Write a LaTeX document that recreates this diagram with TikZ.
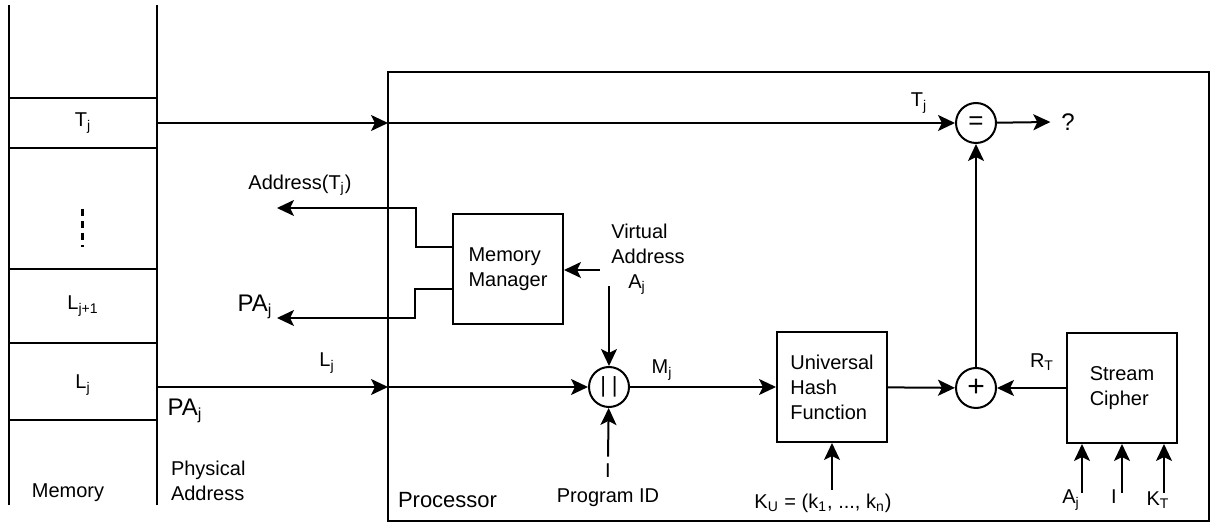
\documentclass[tikz,border=0pt]{standalone}
\usepackage{fontspec}
\setmainfont{Liberation Sans}
\usetikzlibrary{arrows.meta}
\tikzset{
  blk/.style={draw,line width=1pt,minimum width=55pt,minimum height=55pt,align=left,font=\fontsize{10}{12.5}\selectfont},
  junc/.style={draw,circle,line width=1pt,minimum size=20pt,inner sep=0pt,font=\fontsize{11}{13}\selectfont},
  cell/.style={minimum width=74pt,inner sep=0pt,font=\fontsize{10}{12}\selectfont},
  lbl/.style={inner sep=0pt,font=\fontsize{10}{12.5}\selectfont},
  biglbl/.style={inner sep=0pt,font=\fontsize{12}{13}\selectfont},
}

\begin{document}
\begin{tikzpicture}[x=0.5pt,y=-0.5pt,line width=1pt,>={Stealth[length=8.5pt,width=8pt,inset=2pt]}]
\useasboundingbox (0,0) rectangle (1211,523);
% memory column
\draw (9,5) -- (9,505);
\draw (157,5) -- (157,505);
\foreach \y in {98,148,269,343,420} \draw (9,\y) -- (157,\y);
\draw[line width=1.5pt,dash pattern=on 3.5pt off 2.5pt] (82,209) -- (82,247);
\node[cell] (memT) at (83,123) {T\textsubscript{j}};
\node[cell] (memL1) at (83,306) {L\textsubscript{j+1}};
\node[cell] (memL) at (83,385) {L\textsubscript{j}};
\node[lbl] (mem) at (68,493) {Memory};
\node[lbl,align=left,anchor=west] (phys) at (170,481) {Physical\\Address};
% processor
\draw (388,72) rectangle (1209,521);
\node[inner sep=0pt,anchor=west,font=\fontsize{11}{13}\selectfont] (proc) at (397,500) {Processor};
\node[junc,font=\fontsize{13}{13}\selectfont] (eq) at (976,123) {=};
\node[junc] (cat) at (609,387) {|\hspace{3pt}|};
\node[junc,font=\fontsize{15}{15}\selectfont] (plus) at (976,388) {+};
\node[blk] (mm) at (508,269) {Memory\\Manager};
\node[blk] (uhf) at (832,387) {Universal\\Hash\\Function};
\node[blk] (sc) at (1122,388) {Stream\\Cipher};
% tag path
\coordinate (pinT) at (388,123);
\draw[->] (memT.east) -- (pinT);
\draw[->] (pinT) -- (eq);
\node[lbl] (tj) at (919,103) {T\textsubscript{j}};
\node[biglbl] (ans) at (1068,122) {?};
\draw[->] (eq) -- ([xshift=-5pt]ans.west);
% line path
\coordinate (pinL) at (388,387);
\draw[->] (memL.east |- pinL) -- (pinL);
\draw[->] (pinL) -- (cat);
\node[lbl] (lj) at (327,363) {L\textsubscript{j}};
\node[biglbl] (paL) at (185,411) {PA\textsubscript{j}};
\draw[->] (cat) -- (uhf);
\node[lbl] (mj) at (662,370) {M\textsubscript{j}};
\draw[->] (uhf) -- (plus);
\draw[->] (sc.west) -- (plus);
\node[lbl] (rt) at (1042,362) {R\textsubscript{T}};
\draw[->] (plus) -- (eq);
% memory manager
\coordinate (addrT) at (277,208);
\coordinate (paT) at (277,318);
\draw[->] ([yshift=11pt]mm.west) -- ++(-36,0) |- (addrT);
\draw[->] ([yshift=-10pt]mm.west) -- ++(-37,0) |- (paT);
\node[lbl] (addr) at (300,185) {Address(T\textsubscript{j})};
\node[biglbl] (paM) at (255,307) {PA\textsubscript{j}};
\node[lbl,align=left] (va) at (648,259) {Virtual\\Address\\\hspace*{8.5pt}A\textsubscript{j}};
\coordinate (vaL) at (600,270);
\coordinate (vaD) at (609,286);
\draw[->] (vaL) -- (mm.east |- vaL);
\draw[->] (vaD) -- (cat);
% inputs
\node[lbl,align=center] (pid) at (608,485) {I\\Program ID};
\draw[->] ([yshift=3pt]pid.north) -- (cat);
\node[lbl] (ku) at (823,503) {K\textsubscript{U} = (k\textsubscript{1}, ..., k\textsubscript{n})};
\coordinate (kuT) at (832,490);
\draw[->] (kuT) -- (uhf);
\node[lbl] (aj) at (1071,500) {A\textsubscript{j}};
\node[lbl] (pi) at (1114,497) {I};
\node[lbl] (kt) at (1158,500) {K\textsubscript{T}};
\foreach \x/\n in {1082/a,1122/i,1164/k} {
  \coordinate (in\n) at (\x,493);
  \draw[->] (in\n) -- (in\n |- sc.south);
}
\end{tikzpicture}
\end{document}
